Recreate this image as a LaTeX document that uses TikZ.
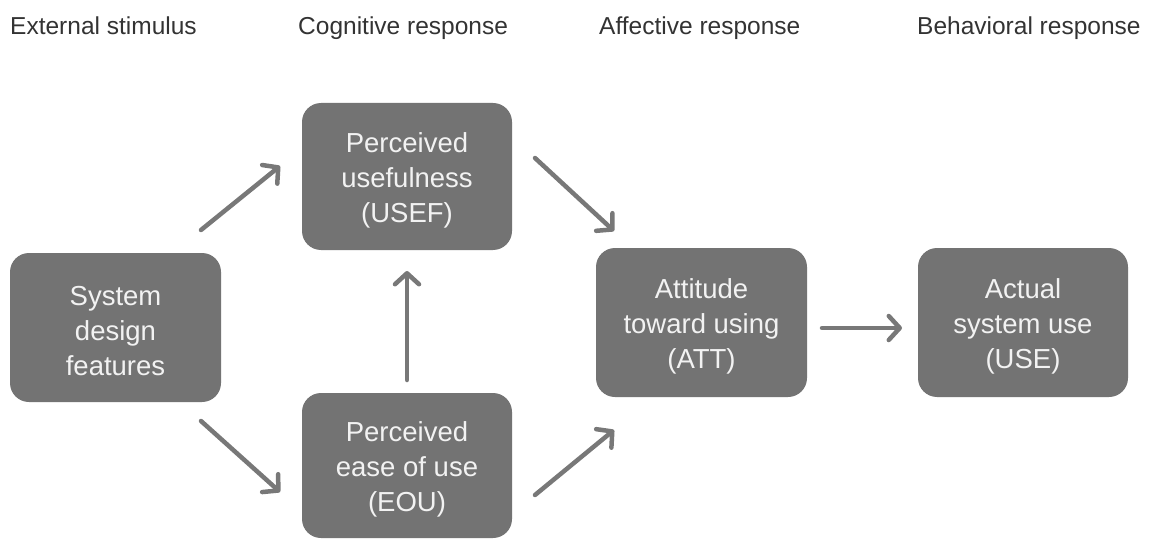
\documentclass[tikz,border=0pt]{standalone}
\usepackage{fontspec}
\setmainfont{Liberation Sans}
\usetikzlibrary{arrows.meta}
\definecolor{boxgray}{HTML}{737373}
\definecolor{arrowgray}{HTML}{787878}
\definecolor{headtext}{HTML}{333333}
\definecolor{boxtext}{HTML}{F2F2F2}
\tikzset{
  stagebox/.style={rounded corners=19pt, fill=boxgray, draw=none,
    inner sep=0pt, minimum width=210pt, minimum height=148pt},
  boxlabel/.style={text=boxtext, align=center, inner sep=0pt, yshift=-4pt,
    font=\fontsize{27.5}{35}\selectfont},
  header/.style={anchor=base west, inner sep=0pt, text=headtext,
    font=\fontsize{24.5}{28}\selectfont},
  flow/.style={draw=arrowgray, line width=4.5pt, line cap=round,
    -{Straight Barb[length=11pt, width=24pt, line join=round, line cap=round]}},
}
\begin{document}
\begin{tikzpicture}[x=1pt,y=-1pt]
\useasboundingbox (0,0) rectangle (1150,540);
% headers
\node[header] (h1) at (10,35) {External stimulus};
\node[header] (h2) at (298,35) {Cognitive response};
\node[header] (h3) at (599,35) {Affective response};
\node[header] (h4) at (917,35) {Behavioral response};
% boxes
\node[stagebox, minimum width=211pt, minimum height=149pt,
  label={[boxlabel]center:System\\design\\features}] (sdf) at (115.5,327.5) {};
\node[stagebox, minimum height=147pt,
  label={[boxlabel]center:Perceived\\usefulness\\(USEF)}] (usef) at (407,176.5) {};
\node[stagebox, minimum height=145pt,
  label={[boxlabel]center:Perceived\\ease of use\\(EOU)}] (eou) at (407,465.5) {};
\node[stagebox, minimum width=211pt, minimum height=149pt,
  label={[boxlabel]center:Attitude\\toward using\\(ATT)}] (att) at (701.5,322.5) {};
\node[stagebox, minimum height=149pt,
  label={[boxlabel]center:Actual\\system use\\(USE)}] (use) at (1023,322.5) {};
% connector ends
\coordinate (a1s) at (201,230);
\coordinate (a1e) at (280,166);
\coordinate (a2s) at (201,421);
\coordinate (a2e) at (280,492);
\coordinate (a3s) at (535,158);
\coordinate (a3e) at (614,231);
\coordinate (a4s) at (535,495);
\coordinate (a4e) at (614,430);
\coordinate (a5s) at (407,380);
\coordinate (a5e) at (407,271);
\coordinate (a6s) at (822,328);
\coordinate (a6e) at (902,328);
% connectors
\draw[flow] (a1s) -- (a1e);
\draw[flow] (a2s) -- (a2e);
\draw[flow] (a3s) -- (a3e);
\draw[flow] (a4s) -- (a4e);
\draw[flow] (a5s) -- (a5e);
\draw[flow] (a6s) -- (a6e);
\end{tikzpicture}
\end{document}
